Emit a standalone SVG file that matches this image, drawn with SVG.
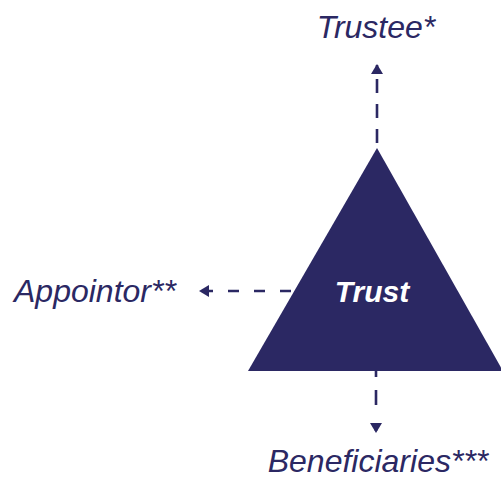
<svg xmlns="http://www.w3.org/2000/svg" width="501" height="479" viewBox="0 0 501 479">
<style>
.lbl{font-family:"Liberation Sans",Arial,sans-serif;font-style:italic;font-size:32px;fill:#2b2863}
.dash{stroke:#2b2863;stroke-width:2.6;fill:none}
</style>
<defs>
<marker id="ah" viewBox="0 0 10 12" refX="9" refY="6" markerWidth="10" markerHeight="12" markerUnits="userSpaceOnUse" orient="auto">
<path d="M0,0 L10,6 L0,12 Z" fill="#2b2863"/>
</marker>
</defs>
<g id="connectors">
<path class="dash" d="M377,148 L377,65" stroke-dasharray="14,11" stroke-dashoffset="-5" marker-end="url(#ah)"/>
<path class="dash" d="M291,291 L200,291" stroke-dasharray="11,15" marker-end="url(#ah)"/>
<path class="dash" d="M376,371 L376,432" stroke-dasharray="6,13,15,20" marker-end="url(#ah)"/>
</g>
<g id="trust">
<polygon points="377,148 248,371 503,371" fill="#2b2863"/>
<text x="372" y="302" text-anchor="middle" font-family="Liberation Sans,Arial,sans-serif" font-weight="bold" font-style="italic" font-size="30" fill="#ffffff">Trust</text>
</g>
<g id="trustee"><text class="lbl" x="376" y="38" text-anchor="middle">Trustee*</text></g>
<g id="appointor"><text class="lbl" x="14" y="302">Appointor**</text></g>
<g id="beneficiaries"><text class="lbl" x="378" y="472" text-anchor="middle">Beneficiaries***</text></g>
</svg>
